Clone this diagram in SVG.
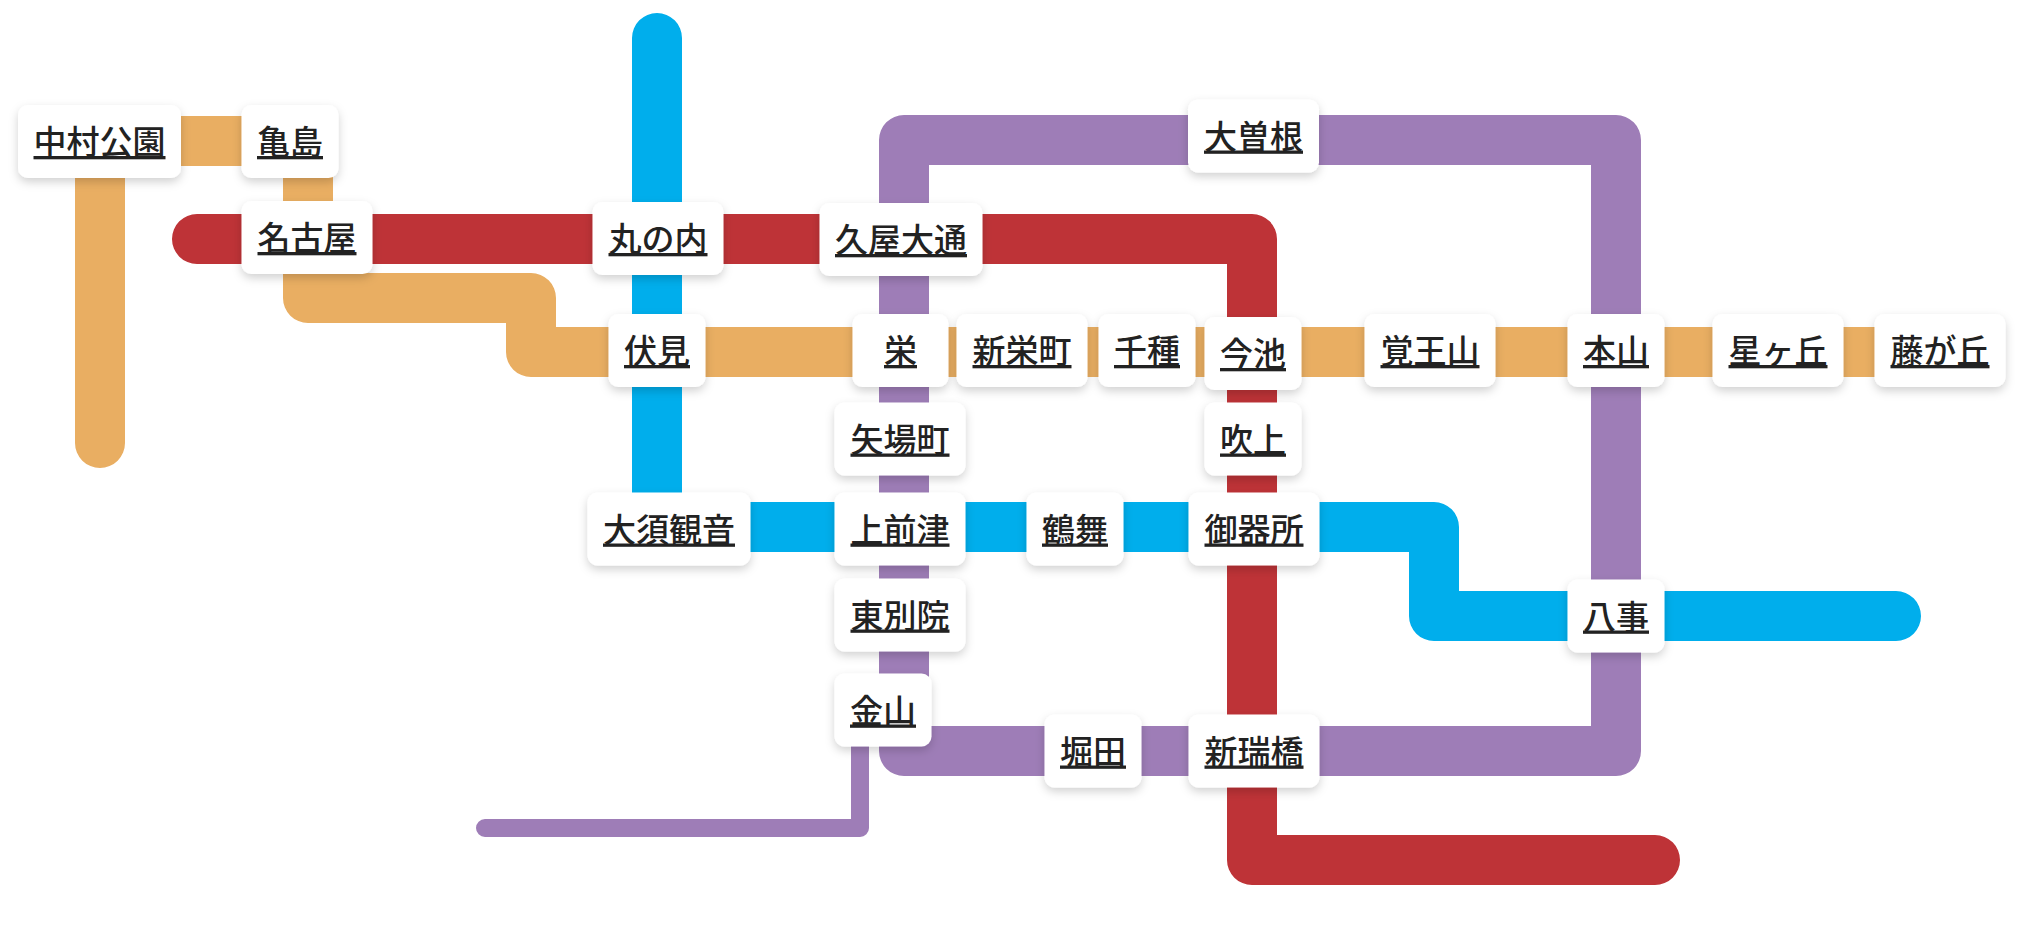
<svg xmlns="http://www.w3.org/2000/svg" width="2024" height="925" viewBox="0 0 2024 925">
<defs>
<filter id="sh" x="-30%" y="-30%" width="160%" height="180%">
<feDropShadow dx="0" dy="4" stdDeviation="5" flood-color="#000" flood-opacity="0.18"/>
</filter>
<style>
.ln{fill:none;stroke-width:50;stroke-linecap:round;stroke-linejoin:round}
.or{stroke:#E9AE62}.rd{stroke:#BE3337}.bl{stroke:#00AEEC}.pu{stroke:#9E7DB7}
.thin{fill:none;stroke:#9E7DB7;stroke-width:18;stroke-linecap:round;stroke-linejoin:round}
.st rect{fill:#fff;filter:url(#sh)}
.st text{font-family:"Noto Sans CJK JP","Noto Sans CJK SC",sans-serif;font-size:33px;font-weight:500;fill:#222;text-anchor:middle;text-decoration:underline}
</style>
</defs>
<rect width="2024" height="925" fill="#fff"/>
<g id="connectors">
<path class="ln pu" d="M904,140 H1616 V751 H904 Z"/>
<path class="thin" d="M860,710 V828 H485"/>
<path class="ln or" d="M100,443 V141 H308 V298 H531 V352 H1940"/>
<path class="ln rd" d="M197,239 H1252 V860 H1655"/>
<path class="ln bl" d="M657,38 V527 H1434 V616 H1896"/>
</g>
<g id="nakamura-koen" class="st"><rect x="18" y="105" width="163" height="73" rx="10"/><text x="99.5" y="154">中村公園</text></g>
<g id="kameshima" class="st"><rect x="241.5" y="105" width="97" height="73" rx="10"/><text x="290" y="154">亀島</text></g>
<g id="nagoya" class="st"><rect x="241.5" y="201" width="131" height="73" rx="10"/><text x="307" y="250">名古屋</text></g>
<g id="marunouchi" class="st"><rect x="592.5" y="202" width="131" height="73" rx="10"/><text x="658" y="251">丸の内</text></g>
<g id="hisaya-odori" class="st"><rect x="819.5" y="203" width="163" height="73" rx="10"/><text x="901" y="252">久屋大通</text></g>
<g id="ozone" class="st"><rect x="1188" y="99.5" width="131" height="73" rx="10"/><text x="1253.5" y="148.5">大曽根</text></g>
<g id="fushimi" class="st"><rect x="608.5" y="314" width="97" height="73" rx="10"/><text x="657" y="363">伏見</text></g>
<g id="sakae" class="st"><rect x="852.5" y="314" width="96" height="73" rx="10"/><text x="900.5" y="363">栄</text></g>
<g id="shin-sakaemachi" class="st"><rect x="956.5" y="314" width="131" height="73" rx="10"/><text x="1022" y="363">新栄町</text></g>
<g id="chikusa" class="st"><rect x="1098.5" y="314" width="97" height="73" rx="10"/><text x="1147" y="363">千種</text></g>
<g id="imaike" class="st"><rect x="1204.5" y="317" width="97" height="73" rx="10"/><text x="1253" y="366">今池</text></g>
<g id="kakuozan" class="st"><rect x="1364.5" y="314" width="131" height="73" rx="10"/><text x="1430" y="363">覚王山</text></g>
<g id="motoyama" class="st"><rect x="1567.5" y="314" width="97" height="73" rx="10"/><text x="1616" y="363">本山</text></g>
<g id="hoshigaoka" class="st"><rect x="1712.5" y="314" width="131" height="73" rx="10"/><text x="1778" y="363">星ヶ丘</text></g>
<g id="fujigaoka" class="st"><rect x="1874.5" y="314" width="131" height="73" rx="10"/><text x="1940" y="363">藤が丘</text></g>
<g id="yabacho" class="st"><rect x="834.5" y="402.5" width="131" height="73" rx="10"/><text x="900" y="451.5">矢場町</text></g>
<g id="fukiage" class="st"><rect x="1204.5" y="402.5" width="97" height="73" rx="10"/><text x="1253" y="451.5">吹上</text></g>
<g id="osu-kannon" class="st"><rect x="587.5" y="492.5" width="163" height="73" rx="10"/><text x="669" y="541.5">大須観音</text></g>
<g id="kamimaezu" class="st"><rect x="834.5" y="492.5" width="131" height="73" rx="10"/><text x="900" y="541.5">上前津</text></g>
<g id="tsurumai" class="st"><rect x="1026.5" y="492.5" width="97" height="73" rx="10"/><text x="1075" y="541.5">鶴舞</text></g>
<g id="gokiso" class="st"><rect x="1188.5" y="492.5" width="131" height="73" rx="10"/><text x="1254" y="541.5">御器所</text></g>
<g id="higashi-betsuin" class="st"><rect x="834.5" y="578.5" width="131" height="73" rx="10"/><text x="900" y="627.5">東別院</text></g>
<g id="yagoto" class="st"><rect x="1567.5" y="579.5" width="97" height="73" rx="10"/><text x="1616" y="628.5">八事</text></g>
<g id="kanayama" class="st"><rect x="834.5" y="673.5" width="97" height="73" rx="10"/><text x="883" y="722.5">金山</text></g>
<g id="horita" class="st"><rect x="1044.5" y="714.5" width="97" height="73" rx="10"/><text x="1093" y="763.5">堀田</text></g>
<g id="aratama-bashi" class="st"><rect x="1188.5" y="714.5" width="131" height="73" rx="10"/><text x="1254" y="763.5">新瑞橋</text></g>
</svg>
